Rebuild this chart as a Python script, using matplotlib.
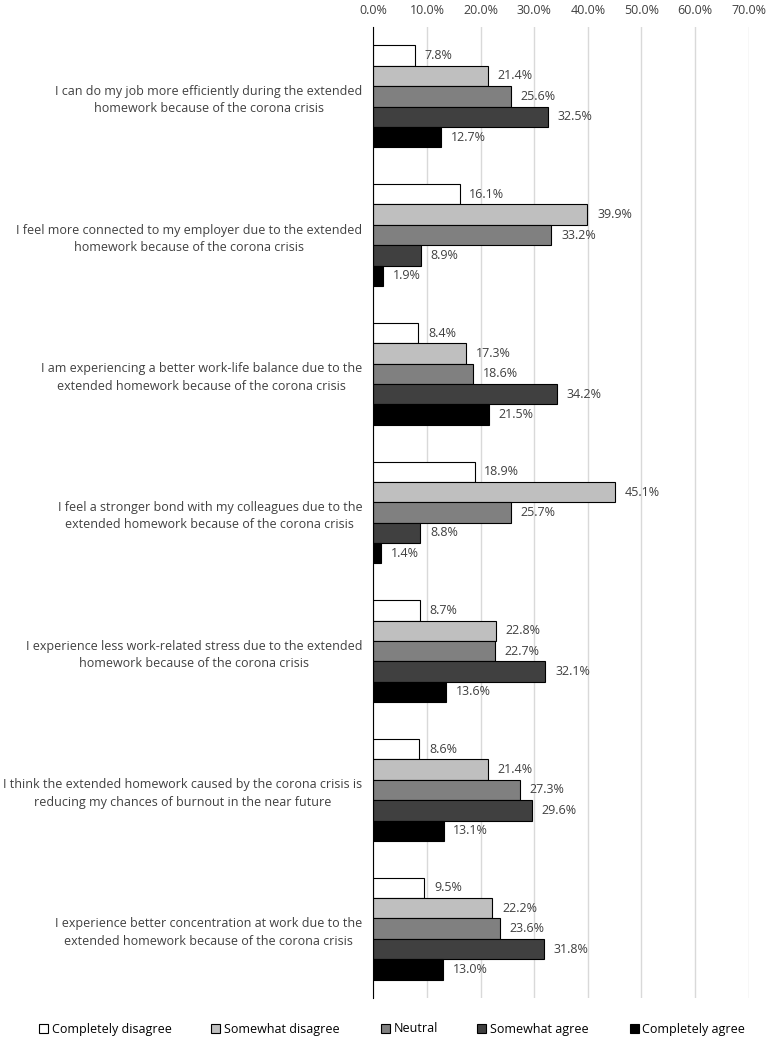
import matplotlib
matplotlib.use("Agg")
import matplotlib.pyplot as plt
import numpy as np
from matplotlib.patches import Patch

plt.rcParams['font.family'] = ['Open Sans', 'DejaVu Sans']

statements = [
    "I can do my job more efficiently during the extended\nhomework because of the corona crisis",
    "I feel more connected to my employer due to the extended\nhomework because of the corona crisis",
    "I am experiencing a better work-life balance due to the\nextended homework because of the corona crisis",
    "I feel a stronger bond with my colleagues due to the\nextended homework because of the corona crisis",
    "I experience less work-related stress due to the extended\nhomework because of the corona crisis",
    "I think the extended homework caused by the corona crisis is\nreducing my chances of burnout in the near future",
    "I experience better concentration at work due to the\nextended homework because of the corona crisis",
]
series_names = ["Completely disagree", "Somewhat disagree", "Neutral",
                "Somewhat agree", "Completely agree"]
completely_disagree = [7.8, 16.1, 8.4, 18.9, 8.7, 8.6, 9.5]
somewhat_disagree = [21.4, 39.9, 17.3, 45.1, 22.8, 21.4, 22.2]
neutral = [25.6, 33.2, 18.6, 25.7, 22.7, 27.3, 23.6]
somewhat_agree = [32.5, 8.9, 34.2, 8.8, 32.1, 29.6, 31.8]
completely_agree = [12.7, 1.9, 21.5, 1.4, 13.6, 13.1, 13.0]
tick_values = [0, 10, 20, 30, 40, 50, 60, 70]

series = [completely_disagree, somewhat_disagree, neutral, somewhat_agree, completely_agree]
colors = ["#ffffff", "#bfbfbf", "#808080", "#404040", "#000000"]

W, H = 767, 1039
fig = plt.figure(figsize=(W / 100, H / 100), dpi=100)
ax = fig.add_axes([373.3 / W, 1 - 998 / H, (748.7 - 373.3) / W, (998 - 27) / H])

fs = 9.0
n = len(statements)
bh = 0.147
y_centers = np.arange(n)
for i, (vals, col, name) in enumerate(zip(series, colors, series_names)):
    ys = y_centers + (i - 2) * bh
    ax.barh(ys, vals, height=bh, color=col, edgecolor="black", linewidth=0.8, zorder=3)
    for y, v in zip(ys, vals):
        ax.annotate(f"{v:.1f}%", (v, y), xytext=(7, 0), textcoords="offset points",
                    va="center", ha="left", fontsize=fs, color="#404040")

ax.set_ylim(n - 0.5, -0.5)
ax.set_xlim(0, 70)
ax.set_xticks(tick_values)
ax.set_xticklabels([f"{t:.1f}%" for t in tick_values], fontsize=fs, color="#404040")
ax.xaxis.tick_top()
ax.tick_params(axis="x", length=0, pad=7)
ax.set_yticks(y_centers)
ax.set_yticklabels(statements, fontsize=fs, color="#404040", multialignment="center",
                   linespacing=1.45)
ax.tick_params(axis="y", length=0, pad=8)
ax.grid(axis="x", color="#d9d9d9", linewidth=1, zorder=0)
for s in ["top", "right", "bottom"]:
    ax.spines[s].set_visible(False)
ax.spines["left"].set_color("#000000")
ax.spines["left"].set_linewidth(0.8)
ax.spines["left"].set_zorder(4)

legend_x = [39, 211, 381, 477, 630]
for c, name, lx in zip(colors, series_names, legend_x):
    h = Patch(facecolor=c, edgecolor="black", linewidth=0.8)
    leg = fig.legend([h], [name], loc="center left", bbox_to_anchor=(lx / W, 1 - 1029 / H),
                     frameon=False, fontsize=fs, handlelength=0.7, handleheight=0.7,
                     handletextpad=0.3, borderpad=0, borderaxespad=0)
    for t in leg.get_texts():
        t.set_color("#000000")

fig.savefig("out.png", dpi=100)
